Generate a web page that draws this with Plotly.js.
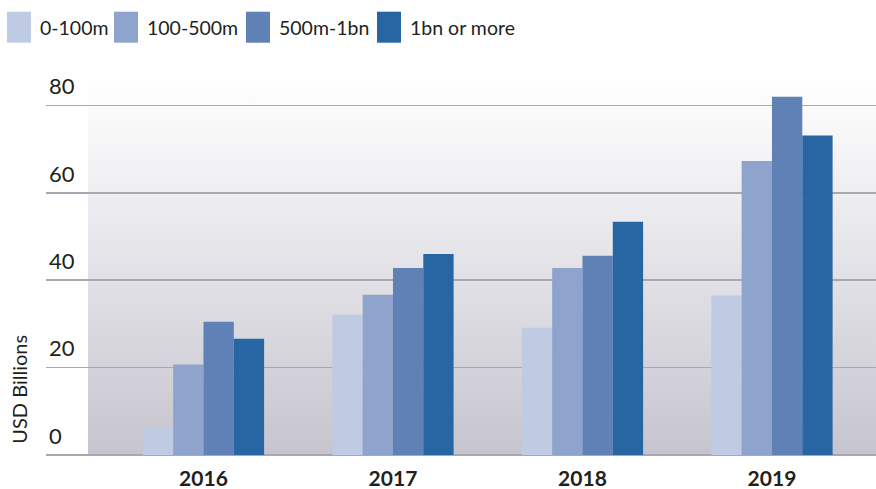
<!DOCTYPE html>
<html>
<head>
<meta charset="utf-8">
<script src="https://cdn.plot.ly/plotly-3.0.1.min.js"></script>
<style>
html,body{margin:0;padding:0;background:#fff;}
#chart{width:876px;height:489px;}
</style>
</head>
<body>
<div id="chart"></div>
<script>
const years = ["2016", "2017", "2018", "2019"];
const seriesNames = ["0-100m", "100-500m", "500m-1bn", "1bn or more"];
const v0_100m = [6.2, 32.1, 29.1, 36.5];
const v100_500m = [20.7, 36.7, 42.8, 67.3];
const v500m_1bn = [30.5, 42.8, 45.6, 82.0];
const v1bn_more = [26.6, 46.0, 53.4, 73.1];
const yTicks = [0, 20, 40, 60, 80];
const colors = ["#bfcae3", "#8fa4cc", "#5f81b6", "#2766a3"];

const values = [v0_100m, v100_500m, v500m_1bn, v1bn_more];
const FONT = "Lato, 'Open Sans', sans-serif";

const traces = values.map((vals, i) => ({
  type: "bar",
  x: years,
  y: vals,
  name: seriesNames[i],
  marker: {color: colors[i], line: {width: 0}},
  hoverinfo: "x+y+name"
}));

const gradSvg = '<svg xmlns="http://www.w3.org/2000/svg" width="10" height="100" preserveAspectRatio="none">' +
  '<defs><linearGradient id="g" x1="0" y1="0" x2="0" y2="1">' +
  '<stop offset="0" stop-color="#ffffff"/><stop offset="0.45" stop-color="#e6e5ea"/>' +
  '<stop offset="1" stop-color="#c6c5cf"/></linearGradient></defs>' +
  '<rect width="10" height="100" fill="url(#g)"/></svg>';
const gradUri = "data:image/svg+xml;charset=utf-8," + encodeURIComponent(gradSvg);

const PB = 455.3, PT = 53.3, PH = PB - PT;
const py = p => (PB - p) / PH;
const px = p => (p - 46) / 830;

// legend drawn as boxes + labels
const legendX = [7, 114, 246, 377];
const shapes = [];
const annotations = [];
seriesNames.forEach((n, i) => {
  shapes.push({type: "rect", xref: "paper", yref: "paper", layer: "above",
    x0: px(legendX[i]), x1: px(legendX[i] + 24),
    y0: py(43), y1: py(12),
    fillcolor: colors[i], line: {width: 0}});
  annotations.push({xref: "paper", yref: "paper", x: px(legendX[i] + 31),
    y: py(28), xanchor: "left", yanchor: "middle", showarrow: false,
    text: n, font: {family: FONT, size: 19.5, color: "#231f20"}});
});

const layout = {
  width: 876, height: 489,
  margin: {l: 46, r: 0, t: PT, b: 489 - PB, pad: 0},
  paper_bgcolor: "#ffffff",
  plot_bgcolor: "rgba(0,0,0,0)",
  showlegend: false,
  barmode: "group",
  bargap: 0.36,
  bargroupgap: 0,
  font: {family: FONT, color: "#231f20"},
  xaxis: {
    type: "category",
    range: [-0.831, 3.549],
    showgrid: false, zeroline: false, showline: false,
    ticks: "", ticklen: 0,
    ticklabelstandoff: 9,
    tickfont: {family: FONT, size: 21, color: "#231f20", weight: "bold"}
  },
  yaxis: {
    range: [0, 92],
    tickvals: yTicks,
    ticktext: yTicks.map(String),
    showgrid: true, gridcolor: "#a9a7b1", gridwidth: 1.5,
    zeroline: true, zerolinecolor: "#a9a7b1", zerolinewidth: 1.5,
    showline: false, ticks: "",
    ticklabelposition: "inside",
    ticklabelshift: -19,
    ticklabelstandoff: 0,
    tickfont: {family: FONT, size: 22, color: "#231f20"},
    title: {text: ""}
  },
  images: [{
    source: gradUri, xref: "paper", yref: "paper",
    x: px(88), y: py(80), sizex: 1 - px(88), sizey: py(80),
    xanchor: "left", yanchor: "top", sizing: "stretch", layer: "below"
  }],
  shapes: shapes,
  annotations: annotations.concat([{
    xref: "paper", yref: "paper", x: px(19), y: py(390),
    xanchor: "center", yanchor: "middle", showarrow: false, textangle: -90,
    text: "USD Billions", font: {family: FONT, size: 20, color: "#231f20"}
  }])
};

Plotly.newPlot("chart", traces, layout, {displayModeBar: false, staticPlot: true});
</script>
</body>
</html>
